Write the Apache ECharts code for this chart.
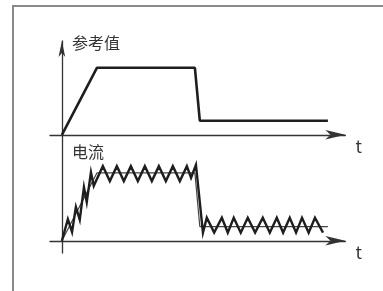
<!DOCTYPE html>
<html>
<head>
<meta charset="utf-8">
<script src="https://cdn.jsdelivr.net/npm/echarts@6/dist/echarts.min.js"></script>
<style>
  html, body { margin: 0; padding: 0; background: #fff; }
  #chart { width: 383px; height: 291px; }
</style>
</head>
<body>
<div id="chart"></div>
<script>
// 参考值 (setpoint) over time
var refT = [0, 10, 38, 39.4, 76];
var refV = [0, 100, 100, 21, 21];

// 电流 (measured current), zigzag around the setpoint
var curT = [0, 1.7, 2.9, 4, 5.1, 6.3, 7.1, 8.3, 9.1,
    11.7, 13.7, 15.7, 17.7, 19.7, 21.7, 23.7, 25.7, 27.7, 29.7, 31.7, 33.7, 35.7, 36.9, 38.3,
    40.3, 41.4, 43.5, 45.7, 47.4, 49.1, 51.1, 53.1, 55.2, 57.4, 59.4, 61.4, 63.2, 65.1,
    66.9, 68.6, 70.5, 72.3, 74.6];
var curV = [0, 32, 13, 50, 31, 79, 57, 101, 81,
    110, 88, 110, 88, 110, 88, 110, 88, 110, 88, 110, 88, 110, 93, 112,
    12, 34, 12, 34, 12, 34, 12, 34, 12, 34, 12, 34, 12, 34,
    12, 34, 12, 34, 12];

var axisNames = ['参考值', '电流', 't'];

function pairs(xs, ys) {
    return xs.map(function (x, i) { return [x, ys[i]]; });
}

var font = '"Noto Sans CJK SC", "Noto Sans", sans-serif';
var lineCol = '#333';

function xAx(idx) {
    return {
        type: 'value', gridIndex: idx, min: -3.4, max: 81,
        name: axisNames[2], nameLocation: 'end', nameGap: 10,
        nameTextStyle: { color: '#333', fontSize: 17, fontFamily: font, verticalAlign: 'top', align: 'left', padding: [3, 0, 0, 0] },
        axisLine: { lineStyle: { color: lineCol, width: 1.3 }, symbol: ['none', 'arrow'], symbolSize: [7, 20] },
        axisTick: { show: false }, axisLabel: { show: false }, splitLine: { show: false }
    };
}

var option = {
    animation: false,
    backgroundColor: '#fff',
    graphic: [{
        type: 'rect', shape: { x: 13, y: 6, width: 420, height: 320 },
        style: { fill: 'none', stroke: '#8a8a8a', lineWidth: 2 }, silent: true
    }],
    grid: [
        { left: 50, top: 41, width: 295.4, height: 95.8 },
        { left: 50, top: 137, width: 295.4, height: 116 }
    ],
    xAxis: [xAx(0), xAx(1)],
    yAxis: [
        {
            type: 'value', gridIndex: 0, min: -3, max: 140,
            name: axisNames[0], nameLocation: 'end', nameGap: -2,
            nameTextStyle: { color: '#333', fontSize: 16, fontFamily: font, align: 'left', verticalAlign: 'middle', padding: [0, 0, 0, 10] },
            axisLine: { lineStyle: { color: lineCol, width: 1.3 }, symbol: ['none', 'arrow'], symbolSize: [5, 16] },
            axisTick: { show: false }, axisLabel: { show: false }, splitLine: { show: false }
        },
        {
            type: 'value', gridIndex: 1, min: -18, max: 153,
            name: axisNames[1], nameLocation: 'end', nameGap: -15,
            nameTextStyle: { color: '#333', fontSize: 16, fontFamily: font, align: 'left', verticalAlign: 'middle', padding: [0, 0, 0, 10] },
            axisLine: { lineStyle: { color: lineCol, width: 1.3 } },
            axisTick: { show: false }, axisLabel: { show: false }, splitLine: { show: false }
        }
    ],
    series: [
        {
            type: 'line', xAxisIndex: 0, yAxisIndex: 0, data: pairs(refT, refV),
            showSymbol: false, lineStyle: { color: '#1e1e1e', width: 2.6 }
        },
        {
            type: 'line', xAxisIndex: 1, yAxisIndex: 1, data: pairs(refT, refV),
            showSymbol: false, lineStyle: { color: '#444', width: 1.2 }
        },
        {
            type: 'line', xAxisIndex: 1, yAxisIndex: 1, data: pairs(curT, curV),
            showSymbol: false, lineStyle: { color: '#1e1e1e', width: 2.4, join: 'miter' }
        }
    ]
};

var chart = echarts.init(document.getElementById('chart'));
chart.setOption(option);
</script>
</body>
</html>
